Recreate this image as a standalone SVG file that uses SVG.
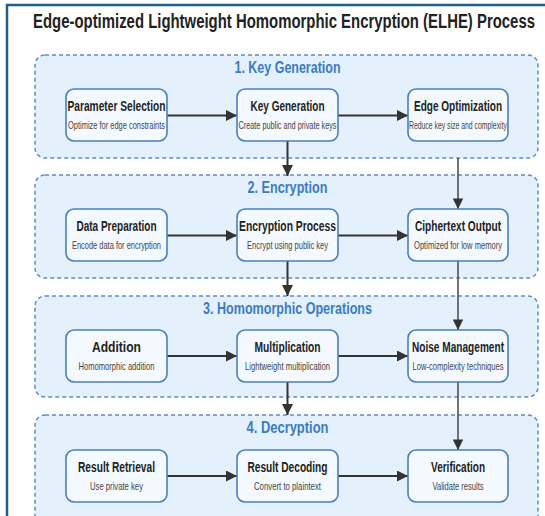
<svg xmlns="http://www.w3.org/2000/svg" width="545" height="516" viewBox="0 0 545 516">
  <style>
    .frame { fill: #ffffff; stroke: #1f5f8b; stroke-width: 2.5; }
    .section { fill: #e4f0fc; stroke: #5a8fc6; stroke-width: 1.5; stroke-dasharray: 4 3; }
    .sec-title { font-family: "Liberation Sans", Arial, sans-serif; font-weight: bold; font-size: 16px; fill: #3b7cbf; text-anchor: middle; }
    .node rect { fill: #f4f9ff; stroke: #4a80b8; stroke-width: 1.6; }
    .node-title { font-family: "Liberation Sans", Arial, sans-serif; font-weight: bold; font-size: 14px; fill: #222222; text-anchor: middle; }
    .node-sub { font-family: "Liberation Sans", Arial, sans-serif; font-size: 10.5px; fill: #444444; text-anchor: middle; }
    .main-title { font-family: "Liberation Sans", Arial, sans-serif; font-weight: bold; font-size: 21px; fill: #222222; }
    .link { fill: none; stroke: #333333; stroke-width: 2; }
    .link-side { fill: none; stroke: #505050; stroke-width: 1.6; }
  </style>
  <defs>
    <marker id="arrow" viewBox="0 0 10 10" refX="10" refY="5" markerWidth="6" markerHeight="5.5" markerUnits="strokeWidth" orient="auto">
      <path d="M0,0 L10,5 L0,10 Z" fill="#333333"/>
    </marker>
    <marker id="arrow-side" viewBox="0 0 10 10" refX="10" refY="5" markerWidth="7" markerHeight="6.5" markerUnits="strokeWidth" orient="auto">
      <path d="M0,0 L10,5 L0,10 Z" fill="#333333"/>
    </marker>
  </defs>

  <!-- page frame -->
  <rect class="frame" x="7" y="5" width="560" height="530"/>

  <!-- condensed heading: horizontal squeeze, width pinned by textLength -->
  <text class="main-title" transform="scale(0.65,1)" x="50.77" y="28" textLength="772.3" lengthAdjust="spacingAndGlyphs">Edge-optimized Lightweight Homomorphic Encryption (ELHE) Process</text>

  <!-- stage containers -->
  <g id="stage-key-generation">
    <rect class="section" x="35" y="55" width="503" height="103" rx="10"/>
    <text class="sec-title" x="287.5" y="73" textLength="106" lengthAdjust="spacingAndGlyphs">1. Key Generation</text>
  </g>
  <g id="stage-encryption">
    <rect class="section" x="35" y="175" width="503" height="103" rx="10"/>
    <text class="sec-title" x="287.5" y="193" textLength="80" lengthAdjust="spacingAndGlyphs">2. Encryption</text>
  </g>
  <g id="stage-homomorphic-operations">
    <rect class="section" x="35" y="296" width="503" height="101" rx="10"/>
    <text class="sec-title" x="287.5" y="314" textLength="169" lengthAdjust="spacingAndGlyphs">3. Homomorphic Operations</text>
  </g>
  <g id="stage-decryption">
    <rect class="section" x="35" y="415" width="503" height="120" rx="10"/>
    <text class="sec-title" x="287.5" y="433" textLength="82" lengthAdjust="spacingAndGlyphs">4. Decryption</text>
  </g>

  <!-- connectors -->
  <g id="connectors">
    <line class="link" x1="167" y1="115.5" x2="237" y2="115.5" marker-end="url(#arrow)"/>
    <line class="link" x1="338" y1="115.5" x2="408" y2="115.5" marker-end="url(#arrow)"/>
    <line class="link" x1="167" y1="235.5" x2="237" y2="235.5" marker-end="url(#arrow)"/>
    <line class="link" x1="338" y1="235.5" x2="408" y2="235.5" marker-end="url(#arrow)"/>
    <line class="link" x1="167" y1="356" x2="237" y2="356" marker-end="url(#arrow)"/>
    <line class="link" x1="338" y1="356" x2="408" y2="356" marker-end="url(#arrow)"/>
    <line class="link" x1="167" y1="476" x2="237" y2="476" marker-end="url(#arrow)"/>
    <line class="link" x1="338" y1="476" x2="408" y2="476" marker-end="url(#arrow)"/>

    <line class="link" x1="287.5" y1="141" x2="287.5" y2="176" marker-end="url(#arrow)"/>
    <line class="link" x1="287.5" y1="261" x2="287.5" y2="296" marker-end="url(#arrow)"/>
    <line class="link" x1="287.5" y1="382" x2="287.5" y2="415" marker-end="url(#arrow)"/>

    <line class="link-side" x1="458" y1="158" x2="458" y2="209" marker-end="url(#arrow-side)"/>
    <line class="link-side" x1="458" y1="261" x2="458" y2="330" marker-end="url(#arrow-side)"/>
    <line class="link-side" x1="458" y1="382" x2="458" y2="450" marker-end="url(#arrow-side)"/>
  </g>

  <!-- stage 1 -->
  <g id="parameter-selection" class="node">
    <rect x="66" y="89" width="101" height="52" rx="8"/>
    <text class="node-title" x="116.5" y="111" textLength="98" lengthAdjust="spacingAndGlyphs">Parameter Selection</text>
    <text class="node-sub" x="116.5" y="129" textLength="97" lengthAdjust="spacingAndGlyphs">Optimize for edge constraints</text>
  </g>
  <g id="key-generation" class="node">
    <rect x="237" y="89" width="101" height="52" rx="8"/>
    <text class="node-title" x="287.5" y="111" textLength="74" lengthAdjust="spacingAndGlyphs">Key Generation</text>
    <text class="node-sub" x="287.5" y="129" textLength="98" lengthAdjust="spacingAndGlyphs">Create public and private keys</text>
  </g>
  <g id="edge-optimization" class="node">
    <rect x="408" y="89" width="100" height="52" rx="8"/>
    <text class="node-title" x="458" y="111" textLength="88" lengthAdjust="spacingAndGlyphs">Edge Optimization</text>
    <text class="node-sub" transform="scale(0.65,1)" x="704.6" y="129" textLength="150.8" lengthAdjust="spacingAndGlyphs">Reduce key size and complexity</text>
  </g>

  <!-- stage 2 -->
  <g id="data-preparation" class="node">
    <rect x="66" y="209" width="101" height="52" rx="8"/>
    <text class="node-title" x="116.5" y="231" textLength="80" lengthAdjust="spacingAndGlyphs">Data Preparation</text>
    <text class="node-sub" x="116.5" y="249" textLength="89" lengthAdjust="spacingAndGlyphs">Encode data for encryption</text>
  </g>
  <g id="encryption-process" class="node">
    <rect x="237" y="209" width="101" height="52" rx="8"/>
    <text class="node-title" x="287.5" y="231" textLength="97" lengthAdjust="spacingAndGlyphs">Encryption Process</text>
    <text class="node-sub" x="287.5" y="249" textLength="81" lengthAdjust="spacingAndGlyphs">Encrypt using public key</text>
  </g>
  <g id="ciphertext-output" class="node">
    <rect x="408" y="209" width="100" height="52" rx="8"/>
    <text class="node-title" x="458" y="231" textLength="86" lengthAdjust="spacingAndGlyphs">Ciphertext Output</text>
    <text class="node-sub" x="458" y="249" textLength="88" lengthAdjust="spacingAndGlyphs">Optimized for low memory</text>
  </g>

  <!-- stage 3 -->
  <g id="addition" class="node">
    <rect x="66" y="330" width="101" height="52" rx="8"/>
    <text class="node-title" x="116.5" y="352" textLength="49" lengthAdjust="spacingAndGlyphs">Addition</text>
    <text class="node-sub" x="116.5" y="370" textLength="76" lengthAdjust="spacingAndGlyphs">Homomorphic addition</text>
  </g>
  <g id="multiplication" class="node">
    <rect x="237" y="330" width="101" height="52" rx="8"/>
    <text class="node-title" x="287.5" y="352" textLength="66" lengthAdjust="spacingAndGlyphs">Multiplication</text>
    <text class="node-sub" x="287.5" y="370" textLength="85" lengthAdjust="spacingAndGlyphs">Lightweight multiplication</text>
  </g>
  <g id="noise-management" class="node">
    <rect x="408" y="330" width="100" height="52" rx="8"/>
    <text class="node-title" x="458" y="352" textLength="92" lengthAdjust="spacingAndGlyphs">Noise Management</text>
    <text class="node-sub" x="458" y="370" textLength="91" lengthAdjust="spacingAndGlyphs">Low-complexity techniques</text>
  </g>

  <!-- stage 4 -->
  <g id="result-retrieval" class="node">
    <rect x="66" y="450" width="101" height="52" rx="8"/>
    <text class="node-title" x="116.5" y="472" textLength="77" lengthAdjust="spacingAndGlyphs">Result Retrieval</text>
    <text class="node-sub" x="116.5" y="490" textLength="53" lengthAdjust="spacingAndGlyphs">Use private key</text>
  </g>
  <g id="result-decoding" class="node">
    <rect x="237" y="450" width="101" height="52" rx="8"/>
    <text class="node-title" x="287.5" y="472" textLength="80" lengthAdjust="spacingAndGlyphs">Result Decoding</text>
    <text class="node-sub" x="287.5" y="490" textLength="67" lengthAdjust="spacingAndGlyphs">Convert to plaintext</text>
  </g>
  <g id="verification" class="node">
    <rect x="408" y="450" width="100" height="52" rx="8"/>
    <text class="node-title" x="458" y="472" textLength="54" lengthAdjust="spacingAndGlyphs">Verification</text>
    <text class="node-sub" x="458" y="490" textLength="51" lengthAdjust="spacingAndGlyphs">Validate results</text>
  </g>
</svg>
